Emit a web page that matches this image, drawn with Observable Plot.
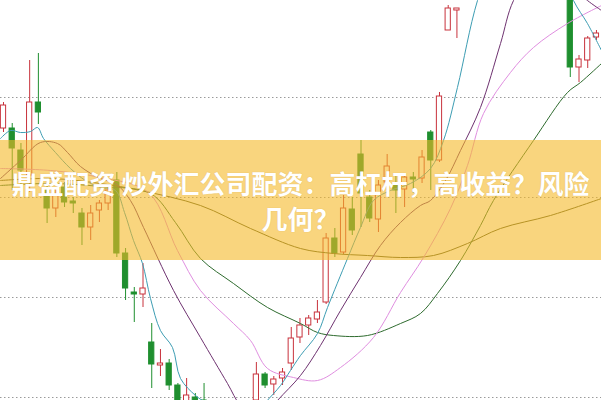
<!DOCTYPE html>
<html><head><meta charset="utf-8">
<script src="https://cdn.jsdelivr.net/npm/d3@7"></script>
<script src="https://cdn.jsdelivr.net/npm/@observablehq/plot@0.6"></script>
<style>
html,body{margin:0;padding:0;background:#fff;overflow:hidden}
#wrap{position:relative;width:601px;height:400px;overflow:hidden}
#banner{position:absolute;left:0;top:140px;width:601px;height:120px;background:rgba(245,185,40,0.6);
display:flex;flex-direction:column;align-items:center;justify-content:center;
font-family:"Noto Sans CJK SC","Noto Sans",sans-serif;font-weight:700;font-size:26px;line-height:35px;color:#fff;text-align:center;
text-shadow:0 0 1px rgba(160,110,20,0.35)}
</style></head>
<body><div id="wrap"><div id="chart"></div><div id="banner"><div>鼎盛配资 炒外汇公司配资：高杠杆，高收益？风险</div><div>几何？</div></div></div>
<script>
// candle values (price units; grid at 0/100/200/300)
const open  = [269,269,247,222,295,207,189,210,196,184,170,187,194,217,144,105,103,55,32,34,12,-15,0,-3,-13,-38,-28,-41,-35,-3,23,13,19,34,60,72,78,95,159,145,188,243,200,178,215,212,208,220,219,265,237,367,387,412,400,430,458,440,478,495,470,486,460,470,445,407,330,337,360];
const close = [292,249,227,295,285,189,202,195,194,170,184,194,207,144,109,103,109,33,34,12,-13,2,-13,-23,-33,-23,-43,-31,-18,23,12,18,25,59,72,79,85,159,144,189,167,204,179,212,231,207,220,218,240,237,301,389,389,400,430,460,440,480,498,470,488,460,472,445,430,330,338,359,364];
const high  = [295,274,254,337,344,212,210,215,200,189,192,197,212,225,149,110,134,74,48,38,14,19,4,14,-8,-18,-21,-23,-13,35,25,21,29,70,79,82,97,164,169,202,200,257,207,217,243,222,222,225,247,267,305,392,389,425,440,470,465,490,505,500,495,492,480,475,450,417,342,361,367];
const low   = [265,207,205,205,273,174,180,190,184,152,157,175,187,140,97,75,90,9,21,7,-23,-18,-18,-33,-43,-48,-53,-48,-43,-8,9,2,12,27,54,62,74,93,140,143,162,170,175,165,207,184,190,204,214,207,235,367,359,402,402,425,435,438,470,465,462,455,450,440,420,320,315,329,357];
const gridTicks = [0,100,200,300];

// moving average lines: [candle index, value]
const ma5 = [[-0.34,259],[0.8,267],[1.95,265],[3.1,266],[3.9,270],[4.59,259],[5.96,245],[7.68,229],[9.4,217],[11.12,210],[12.84,207],[13.88,185],[14.91,157],[15.94,134],[16.86,99],[18,67],[19.38,50],[20.3,19],[22.02,2],[23.17,-5],[26.03,-23],[28.33,-23],[30.05,-5],[31.77,12],[32.91,27],[34.06,42],[36.01,64],[37.16,90],[39.45,139],[40.94,170],[42.43,197],[44.38,207],[46.67,214],[48.97,229],[50.46,257],[52.06,310],[54.36,397],[57,457],[60.44,487],[63.3,447],[65.37,397],[66.97,374],[68.58,347]];
const ma10 = [[-0.34,219],[1.95,237],[4.24,255],[6.19,254],[7.34,245],[8.83,231],[11.12,219],[12.84,214],[14.56,197],[16.06,170],[19.5,107],[22.59,60],[25.69,14],[27.18,-8],[29.47,-23],[31.42,-3],[34.06,22],[36.35,52],[38.65,87],[40.94,120],[43.23,152],[45.53,175],[47.82,192],[48.97,197],[50.69,217],[52.41,247],[54.7,290],[57,354],[58.49,397],[61.58,437],[65.02,412],[66.97,397],[68.58,387]];
const ma20 = [[-0.34,229],[5.39,227],[11.12,220],[16.63,205],[19.95,147],[22.59,107],[26.38,74],[28.33,57],[30.28,29],[33.26,20],[36.01,17],[38.65,30],[42.43,60],[45.53,105],[48.17,140],[51.26,189],[53.21,232],[55.05,284],[58.14,325],[60.78,350],[64.68,374],[68.58,392]];
const ma60 = [[-0.34,212],[5.39,214],[11.12,211],[16.86,204],[19.72,175],[22.59,139],[26.38,114],[30.28,90],[34.06,74],[36.01,65],[37.84,62],[41.74,62],[45.53,74],[47.82,84],[49.77,104],[52.41,137],[54.7,172],[56.19,197],[60.78,257],[64.68,305],[66.17,315],[68.58,334]];
const ma120 = [[-0.34,217],[5.39,219],[11.12,214],[15.71,207],[22.59,192],[28.33,169],[34.06,149],[37.84,144],[41.74,142],[45.53,140],[49.31,142],[53.21,154],[56.99,169],[62.73,182],[68.58,199]];

const RED = "#c8323c", GREEN = "#1f8f2f";
const candles = open.map((o, i) => ({i, open: o, close: close[i], high: high[i], low: low[i], up: close[i] >= o}));
const line = (data, stroke) => Plot.line(data, {x: d => d[0], y: d => d[1], stroke, strokeWidth: 1, curve: "catmull-rom", clip: true});

const chart = Plot.plot({
  width: 601, height: 400,
  marginTop: 0, marginRight: 0, marginBottom: 0, marginLeft: 0,
  x: {domain: [-0.344, 68.58], axis: null},
  y: {domain: [-3, 397], axis: null},
  style: {background: "#fff", overflow: "hidden"},
  marks: [
    Plot.ruleY(gridTicks, {stroke: "#9a9a9a", strokeDasharray: "1.5,2.5", strokeWidth: 1}),
    Plot.ruleX(candles, {x: "i", y1: "low", y2: "high", stroke: d => d.up ? RED : GREEN, strokeWidth: 1, clip: true}),
    Plot.rect(candles, {x1: d => d.i - 0.3, x2: d => d.i + 0.3, y1: "open", y2: "close",
      fill: d => d.up ? "#fff" : GREEN, stroke: d => d.up ? RED : GREEN, strokeWidth: 1, clip: true}),
    line(ma120, "#5a5a20"),
    line(ma60, "#2e6b2e"),
    line(ma20, "#e08ee0"),
    line(ma10, "#6e3270"),
    line(ma5, "#3d9db3")
  ]
});
document.getElementById("chart").appendChild(chart);
</script>
</body></html>
